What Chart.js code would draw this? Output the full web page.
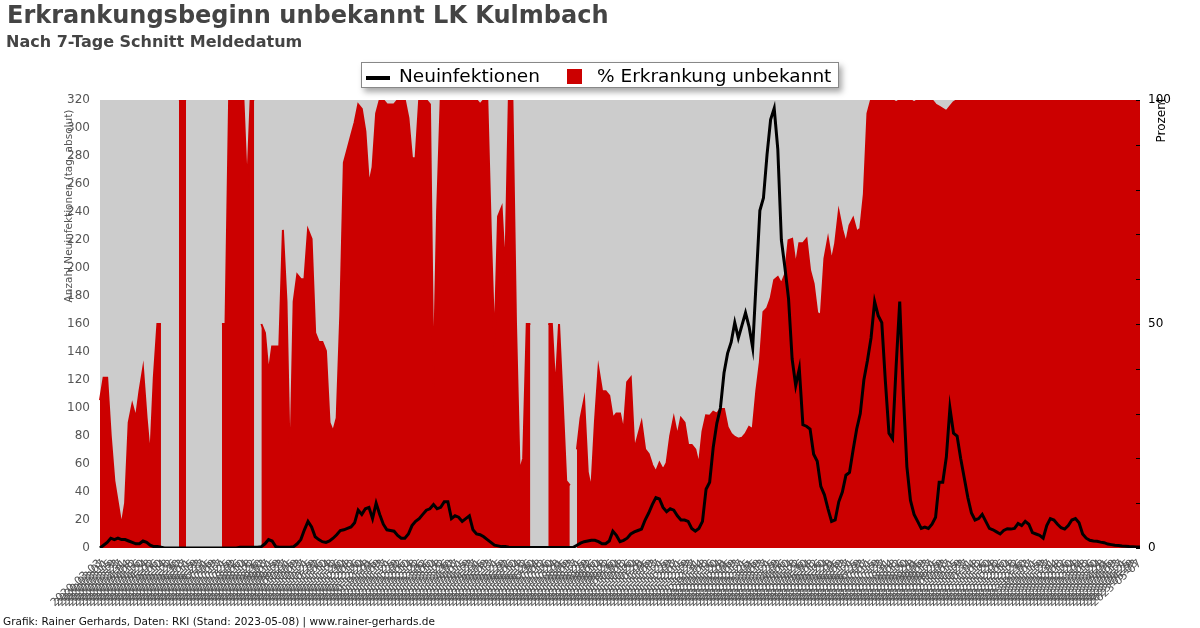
<!DOCTYPE html>
<html><head><meta charset="utf-8">
<script src="https://cdn.jsdelivr.net/npm/chart.js@4.4.0/dist/chart.umd.min.js"></script>
<style>html,body{margin:0;padding:0;background:#fff}canvas{display:block}</style>
</head><body>
<canvas id="c" width="1200" height="628"></canvas>
<script>
const TITLE = 'Erkrankungsbeginn unbekannt LK Kulmbach';
const SUBTITLE = 'Nach 7-Tage Schnitt Meldedatum';
const FOOTER = 'Grafik: Rainer Gerhards, Daten: RKI (Stand: 2023-05-08) | www.rainer-gerhards.de';
const Y_LEFT_TITLE = 'Anzahl Neuinfektionen (tag, absolut)';
const Y_RIGHT_TITLE = 'Prozent';
const SERIES_NAMES = ['Neuinfektionen', '% Erkrankung unbekannt'];
const START_DATE = '2020-03-03';
const STEP_DAYS = 4;
const Y_LEFT_MAX = 320, Y_LEFT_STEP = 20;
const Y_RIGHT_MAX = 100, Y_RIGHT_STEP = 10;
const Y_RIGHT_LABELS = [0, 50, 100];

const neuinfektionen = [
  0,2,4,7,6,7,6,6,5,4,
  3,3,5,4,2,1,1,0.5,0,0,
  0,0,0,0,0,0,0,0,0,0,
  0,0,0,0,0,0,0,0,0,0.5,
  0.5,0.5,0.5,0.5,0.5,1,3,6,5,1,
  0.5,0.5,0.5,0.5,1,3,6,13,19,15,
  8,6,4.5,4,5,7,9.5,12.5,13,14,
  15,18,27,24,28,29,21,32,24,17,
  13,12.5,12,9,7,7,10,16,19,21,
  24,27,28,31,28,29,33,33,21,23,
  22,19,21,23,13,10,9.5,8,6,4,
  2,1.5,1,1,0.5,0.3,0.3,0.3,0.3,0.3,
  0.3,0.3,0.3,0.3,0.3,0.3,0.3,0.3,0.3,0.3,
  0.3,0.3,0.5,2,3.5,4.5,5,5.5,5.5,4.5,
  3,3,5,12,9,4.5,5.5,7,10,11.5,
  12.5,13.5,20,25,31,36,35,29,26,28,
  27,23,20,20,19,14,12,14,19,42,
  47,72,89,100,125,139,147,161,150,159,
  168,158,143,192,241,250,281,306,314,285,
  220,200,178,135,116,128,88,87,85,67,
  62,44,38,28,19,20,33,40,52,54,
  70,85,96,120,134,150,176,166,161,119,
  82,78,130,176,110,58,34,24,19,14,
  15,14,17,22,47,47,65,100,82,80,
  64,50,36,25,20,21,24,19,14,13,
  11.5,10,12.5,13.8,13.5,14,17.5,16,19,17,
  11,10,9,7,16,21,20,17,14.5,13.5,
  16,20,21,18,10,7,5.5,5,4.8,4.2,
  3.8,2.8,2.4,2,1.8,1.5,1.3,1,0.9,0.7,
  0.7
];

const prozentUnbekannt = [
  33,38,38,25,15,10,5,10,28,32,
  29,35,40,29,20,38,50,50,null,null,
  null,null,100,100,100,null,null,null,null,null,
  null,null,null,null,50,50,100,100,100,100,
  100,80,100,100,null,50,48,39,45,45,
  45,71,55,16,55,61,60,60,71,69,
  48,46,46,44,28,26,29,52,86,89,
  92,95,99,98,93,81,85,97,100,100,
  99,99,99,100,100,100,96,87,87,100,
  100,100,99,36,75,100,100,100,100,100,
  100,100,100,100,100,100,99,100,100,70,
  45,74,76,61,100,100,50,17,20,50,
  50,null,null,null,null,50,50,35,50,33,
  15,14,null,22,29,33,17,13,28,40,
  35,35,34,29,30,30,26,37,38,22,
  25,28,22,21,18.5,17,19,17.5,19,25,
  29,25,29,28,23,23,22,18.5,26,29.6,
  29.5,30.4,30,31,31,27,25.5,24.8,24.4,24.6,
  25.5,27,26.5,35,41.5,52.7,53.5,55.7,59.8,60.5,
  59,61,68.7,69,63,68,68,69,62,59,
  52.5,52,64.6,69,64,68,75,71,68,72,
  73.6,70.6,71.3,79,97,100,100,100,100,100,
  100,100,99.5,100,100,100,100,99.5,100,100,
  100,100,100,99,98.5,98,97.5,98.5,99.5,100,
  100,100,100,100,100,100,100,100,100,100,
  100,100,100,100,100,100,100,100,100,100,
  100,100,100,100,100,100,100,100,100,100,
  100,100,100,100,100,100,100,100,100,100,
  100,100,100,100,100,100,100,100,100,100,
  100
];

const dates = [];
(function () {
  const d0 = new Date(START_DATE + 'T00:00:00Z');
  for (let i = 0; i < neuinfektionen.length; i++) {
    const d = new Date(d0.getTime() + i * STEP_DAYS * 86400000);
    dates.push(d.toISOString().slice(0, 10));
  }
})();

const FONT = "'DejaVu Sans', sans-serif";
const RED = '#cc0000';
const GRAY_BG = '#cccccc';

const decor = {
  id: 'decor',
  beforeDraw(chart) {
    const { ctx, chartArea: a } = chart;
    ctx.save();
    ctx.fillStyle = '#fff';
    ctx.fillRect(0, 0, chart.width, chart.height);
    ctx.fillStyle = GRAY_BG;
    ctx.fillRect(a.left, a.top, a.right - a.left, a.bottom - a.top);
    ctx.restore();
  },
  afterDatasetsDraw(chart) {
    const { ctx, chartArea: a } = chart;
    const y1 = chart.scales.y1;
    ctx.save();
    ctx.strokeStyle = '#000';
    ctx.lineWidth = 1;
    for (let v = 0; v <= Y_RIGHT_MAX; v += Y_RIGHT_STEP) {
      const py = Math.round(y1.getPixelForValue(v)) + 0.5;
      ctx.beginPath();
      ctx.moveTo(a.right - 4, py);
      ctx.lineTo(a.right, py);
      ctx.stroke();
    }
    ctx.restore();
  },
  afterDraw(chart) {
    const { ctx } = chart;
    ctx.save();
    ctx.fillStyle = '#444';
    ctx.textBaseline = 'alphabetic';
    ctx.textAlign = 'left';
    ctx.font = 'bold 24px ' + FONT;
    ctx.fillText(TITLE, 7, 23);
    ctx.font = 'bold 16px ' + FONT;
    ctx.fillText(SUBTITLE, 6, 47);
    ctx.fillStyle = '#111';
    ctx.font = '10.5px ' + FONT;
    ctx.fillText(FOOTER, 3, 625);
    ctx.save();
    ctx.translate(69, 206);
    ctx.rotate(-Math.PI / 2);
    ctx.textAlign = 'center';
    ctx.textBaseline = 'middle';
    ctx.fillStyle = '#555';
    ctx.font = '10.5px ' + FONT;
    ctx.fillText(Y_LEFT_TITLE, 0, 0);
    ctx.restore();
    ctx.save();
    ctx.translate(1162, 120);
    ctx.rotate(-Math.PI / 2);
    ctx.textAlign = 'center';
    ctx.textBaseline = 'middle';
    ctx.fillStyle = '#000';
    ctx.font = '12px ' + FONT;
    ctx.fillText(Y_RIGHT_TITLE, 0, 0);
    ctx.restore();
    const bx = 361, by = 62, bw = 478, bh = 26;
    ctx.save();
    ctx.shadowColor = 'rgba(0,0,0,0.35)';
    ctx.shadowBlur = 6;
    ctx.shadowOffsetX = 3;
    ctx.shadowOffsetY = 4;
    ctx.fillStyle = '#fff';
    ctx.fillRect(bx, by, bw, bh);
    ctx.restore();
    ctx.strokeStyle = '#888';
    ctx.lineWidth = 1;
    ctx.strokeRect(bx + 0.5, by + 0.5, bw - 1, bh - 1);
    ctx.strokeStyle = '#000';
    ctx.lineWidth = 4;
    ctx.beginPath();
    ctx.moveTo(366, 78);
    ctx.lineTo(390, 78);
    ctx.stroke();
    ctx.fillStyle = '#000';
    ctx.font = '18.5px ' + FONT;
    ctx.textBaseline = 'middle';
    ctx.fillText(SERIES_NAMES[0], 399, 77);
    ctx.fillStyle = RED;
    ctx.fillRect(567, 69, 15, 15);
    ctx.fillStyle = '#000';
    ctx.fillText(SERIES_NAMES[1], 597, 77);
    ctx.restore();
  }
};

new Chart(document.getElementById('c'), {
  type: 'line',
  data: {
    labels: dates,
    datasets: [
      {
        label: SERIES_NAMES[0],
        data: neuinfektionen,
        yAxisID: 'y',
        borderColor: '#000',
        borderWidth: 3,
        pointRadius: 0,
        tension: 0,
        fill: false,
        order: 0
      },
      {
        label: SERIES_NAMES[1],
        data: prozentUnbekannt,
        yAxisID: 'y1',
        borderColor: RED,
        backgroundColor: RED,
        borderWidth: 2,
        pointRadius: 0,
        tension: 0,
        fill: 'origin',
        spanGaps: false,
        order: 1
      }
    ]
  },
  options: {
    responsive: false,
    devicePixelRatio: 1,
    animation: false,
    events: [],
    layout: { padding: { top: 100, left: 0, right: 0, bottom: 0 } },
    plugins: { legend: { display: false }, tooltip: { enabled: false }, title: { display: false } },
    scales: {
      x: {
        type: 'category',
        grid: { display: false, drawTicks: false },
        border: { display: false },
        ticks: {
          autoSkip: false,
          minRotation: 42,
          maxRotation: 42,
          padding: 9,
          color: '#555',
          font: { family: FONT, size: 11 }
        },
        afterFit(s) { s.height = 80; }
      },
      y: {
        position: 'left',
        min: 0,
        max: Y_LEFT_MAX,
        grid: { display: false, drawTicks: false },
        border: { display: false },
        ticks: { stepSize: Y_LEFT_STEP, padding: 10, color: '#555', font: { family: FONT, size: 12 } },
        afterFit(s) { s.width = 100; }
      },
      y1: {
        position: 'right',
        min: 0,
        max: Y_RIGHT_MAX,
        grid: { display: false, drawTicks: false },
        border: { display: false },
        ticks: {
          stepSize: Y_RIGHT_STEP,
          padding: 8,
          color: '#000',
          font: { family: FONT, size: 12 },
          autoSkip: false,
          callback: (v) => (Y_RIGHT_LABELS.includes(v) ? String(v) : '')
        },
        afterFit(s) { s.width = 60; }
      }
    }
  },
  plugins: [decor]
});
</script>
</body></html>
